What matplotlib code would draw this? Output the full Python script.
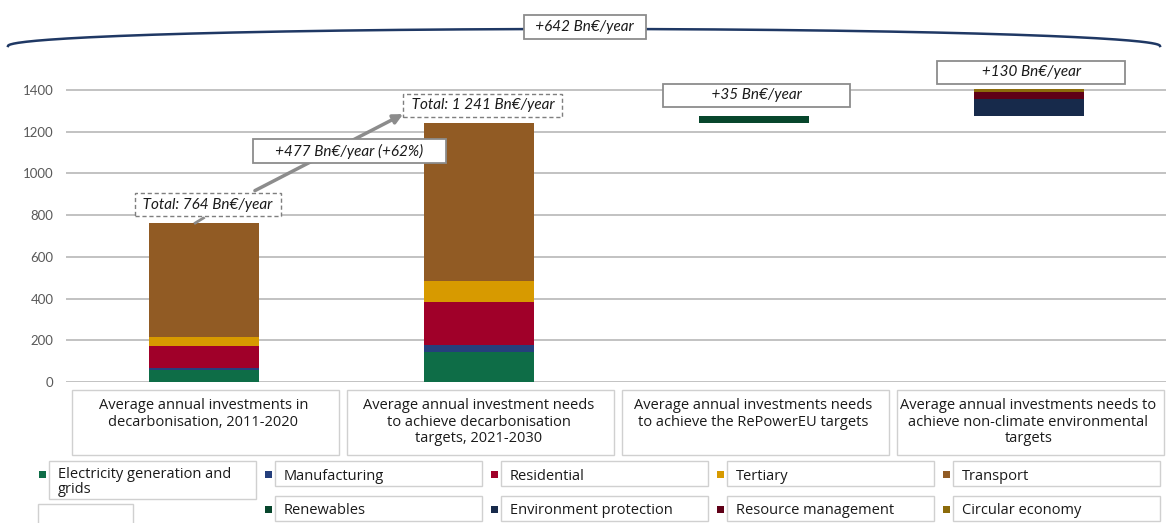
import numpy as np
import matplotlib.pyplot as plt
from matplotlib.patches import Rectangle
from matplotlib.lines import Line2D
from matplotlib.transforms import blended_transform_factory

categories = [
    "Average annual investments in\ndecarbonisation, 2011-2020",
    "Average annual investment needs\nto achieve decarbonisation\ntargets, 2021-2030",
    "Average annual investments needs\nto achieve the RePowerEU targets",
    "Average annual investments needs to\nachieve non-climate environmental\ntargets",
]

# Bn€/year for each category
electricity = [56, 144, 0, 0]
manufacturing = [11, 32, 0, 0]
residential = [104, 205, 0, 0]
tertiary = [45, 102, 0, 0]
transport = [548, 758, 0, 0]
renewables = [0, 0, 35, 0]
environment_protection = [0, 0, 0, 78]
resource_management = [0, 0, 0, 37]
circular_economy = [0, 0, 0, 15]

series_names = ["Electricity generation and\ngrids", "Manufacturing", "Residential",
                "Tertiary", "Transport", "Renewables", "Environment protection",
                "Resource management", "Circular economy"]
series_values = [electricity, manufacturing, residential, tertiary, transport,
                 renewables, environment_protection, resource_management, circular_economy]
colors = ["#0e6d47", "#253f7c", "#a00029", "#d79a00", "#915b24",
          "#07462c", "#172a4b", "#5f0017", "#8c6b0b"]

y_ticks = [0, 200, 400, 600, 800, 1000, 1200, 1400]

W, H = 1166, 523
TEXT_FONT = "Open Sans"
NOTE_FONT = "Lato"


def px(x, y):
    # pixel position -> figure fraction
    return x / W, 1 - y / H


decarb_total = np.sum(series_values[:5], axis=0)
extra_total = np.sum(series_values[5:], axis=0)
base = np.array([0, 0, decarb_total[1], decarb_total[1] + extra_total[2]], dtype=float)

fig = plt.figure(figsize=(W / 100, H / 100), dpi=100)
ax = fig.add_axes([66 / W, 1 - 382 / H, 1100 / W, (382 - 69) / H])

x = np.arange(len(categories))
bottom = base.copy()
for vals, c in zip(series_values, colors):
    ax.bar(x, vals, 0.4, bottom=bottom, color=c, linewidth=0, zorder=3)
    bottom += np.array(vals)

ax.set_xlim(-0.5, 3.5)
ax.set_ylim(0, 1500)
ax.set_yticks(y_ticks)
ax.set_xticks([])
ax.grid(axis="y", color="#bdbdbd", linewidth=1.3, zorder=0)
for s in ax.spines.values():
    s.set_visible(False)
ax.tick_params(axis="y", length=0, pad=9, labelcolor="#595959", labelsize=9.5)
for lab in ax.get_yticklabels():
    lab.set_fontfamily(NOTE_FONT)

note = dict(fontfamily=NOTE_FONT, fontstyle="italic", fontsize=11, color="#1a1a1a",
            ha="center", va="center", zorder=6)
dashed_box = dict(boxstyle="square,pad=0.3", fc="white", ec="#7f7f7f", lw=1, ls=(0, (3, 2)))
solid_box = dict(boxstyle="square,pad=0.3", fc="white", ec="#8c8c8c", lw=1.3)

# totals of the two decarbonisation bars
for i in (0, 1):
    label = f"{int(decarb_total[i]):,}".replace(",", " ")
    ax.text(i + 0.015, decarb_total[i] + 85, f" Total: {label} Bn€/year ", bbox=dashed_box, **note)
ax.plot([-0.03, 0.0], [762, 786], color="#8c8c8c", lw=2, zorder=4, clip_on=False)

# increase arrow between the two totals
diff = int(decarb_total[1] - decarb_total[0])
pct = round(100 * diff / decarb_total[0])
ax.annotate("", xy=(0.735, 1290), xytext=(0.178, 911),
            arrowprops=dict(arrowstyle="-|>", color="#8c8c8c", lw=2.5, mutation_scale=14),
            zorder=4, annotation_clip=False)
ax.text(0.53, 1107, f"     +{diff} Bn€/year (+{pct}%)     ", bbox=solid_box, **note)

# increments for the floating bars
ax.text(2.01, base[2] + extra_total[2] + 98, f"            +{int(extra_total[2])} Bn€/year            ",
        bbox=solid_box, clip_on=False, **note)
ax.text(3.01, base[3] + extra_total[3] + 78, f"           +{int(extra_total[3])} Bn€/year           ",
        bbox=solid_box, clip_on=False, **note)

# brace arc over the whole chart
t = np.linspace(0, np.pi, 200)
arc_x = 584 + 576 * np.cos(t)
arc_y = 46 - 17 * np.sin(t)
fig.add_artist(Line2D(arc_x / W, 1 - arc_y / H, color="#1f3864", lw=1.8, transform=fig.transFigure))
overall = diff + int(extra_total[2]) + int(extra_total[3])
fig.text(*px(585, 27), f"  +{overall} Bn€/year  ", bbox=solid_box, **note)

# category boxes under the bars
trans = blended_transform_factory(ax.transData, fig.transFigure)
for i, cat in enumerate(categories):
    y0 = 1 - 455 / H
    ax.add_patch(Rectangle((i - 0.478, y0), 0.97, 65 / H, transform=trans, fill=False,
                           ec="#d0d0d0", lw=1, clip_on=False))
    ax.text(i, 1 - 398 / H, cat, transform=trans, ha="center", va="top", fontsize=10.5,
            fontfamily=TEXT_FONT, color="#1a1a1a", linespacing=1.15)

# legend, drawn as boxed labels like the original
col_x = [42, 268, 494, 720, 946]
row_y = [474, 509]
slots = [(0, c) for c in range(5)] + [(1, c) for c in range(1, 5)]
for (r, c), name, color in zip(slots, series_names, colors):
    mx, my = col_x[c], row_y[r]
    fig.add_artist(Rectangle(px(mx - 3.5, my + 3.5), 7 / W, 7 / H, transform=fig.transFigure,
                             fc=color, ec="none"))
    box_h = 38 if "\n" in name else 25
    fig.add_artist(Rectangle(px(mx + 7, my - 13 + box_h), 207 / W, box_h / H,
                             transform=fig.transFigure, fill=False, ec="#d0d0d0", lw=1))
    if "\n" in name:
        fig.text(*px(mx + 16, my - 7), name, ha="left", va="top", fontsize=10.5,
                 fontfamily=TEXT_FONT, color="#1a1a1a", linespacing=1.0)
    else:
        fig.text(*px(mx + 16, my + 2), name, ha="left", va="center", fontsize=10.5,
                 fontfamily=TEXT_FONT, color="#1a1a1a")
fig.add_artist(Rectangle(px(38, 530), 95 / W, 26 / H, transform=fig.transFigure,
                         fill=False, ec="#d0d0d0", lw=1))

fig.savefig("out.png", dpi=100)
